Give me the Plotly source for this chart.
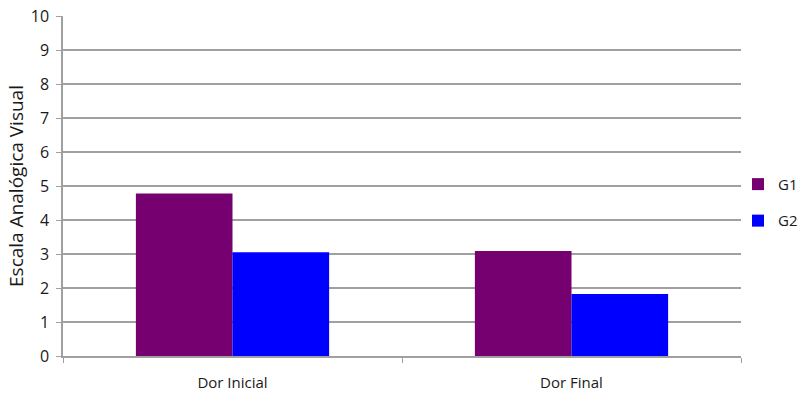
import plotly.graph_objects as go

categories = ["Dor Inicial", "Dor Final"]
g1_values = [4.78, 3.09]
g2_values = [3.05, 1.82]
y_ticks = list(range(0, 11))
y_title = "Escala Analógica Visual"

font_family = "Open Sans, Lato, sans-serif"

fig = go.Figure()
fig.add_trace(go.Bar(name="G1", x=categories, y=g1_values, legendgroup="g1",
                     marker=dict(color="#760070", line=dict(width=0))))
fig.add_trace(go.Bar(name="G2", x=categories, y=g2_values, legendgroup="g2",
                     marker=dict(color="#0000FF", line=dict(width=0))))

fig.update_layout(
    width=811, height=395,
    margin=dict(l=63, r=70, t=16, b=39, autoexpand=False),
    paper_bgcolor="white", plot_bgcolor="white",
    barmode="group", bargap=0.43, bargroupgap=0,
    font=dict(family=font_family, size=15, color="#1a1a1a"),
    legend=dict(xref="container", yref="container", x=0.91, xanchor="left",
                y=0.575, yanchor="top", font=dict(size=15), itemwidth=30,
                tracegroupgap=14, bgcolor="rgba(0,0,0,0)"),
    showlegend=True,
)
fig.update_xaxes(
    showline=True, linecolor="#a0a0a0", linewidth=1.5, automargin=False,
    ticks="outside", tickson="boundaries", ticklen=5, tickcolor="#a0a0a0",
    showgrid=False, tickfont=dict(size=15), ticklabelstandoff=12,
)
fig.update_yaxes(
    range=[0, 10], tickvals=y_ticks, showline=True, linecolor="#a0a0a0", linewidth=1.5,
    ticks="outside", ticklen=5, tickcolor="#a0a0a0", automargin=False,
    showgrid=True, gridcolor="#a0a0a0", gridwidth=1.5, zeroline=False,
    tickfont=dict(size=16), ticklabelstandoff=4,
    title=dict(text=y_title, font=dict(size=19), standoff=2),
)
fig.write_html("out.html")
